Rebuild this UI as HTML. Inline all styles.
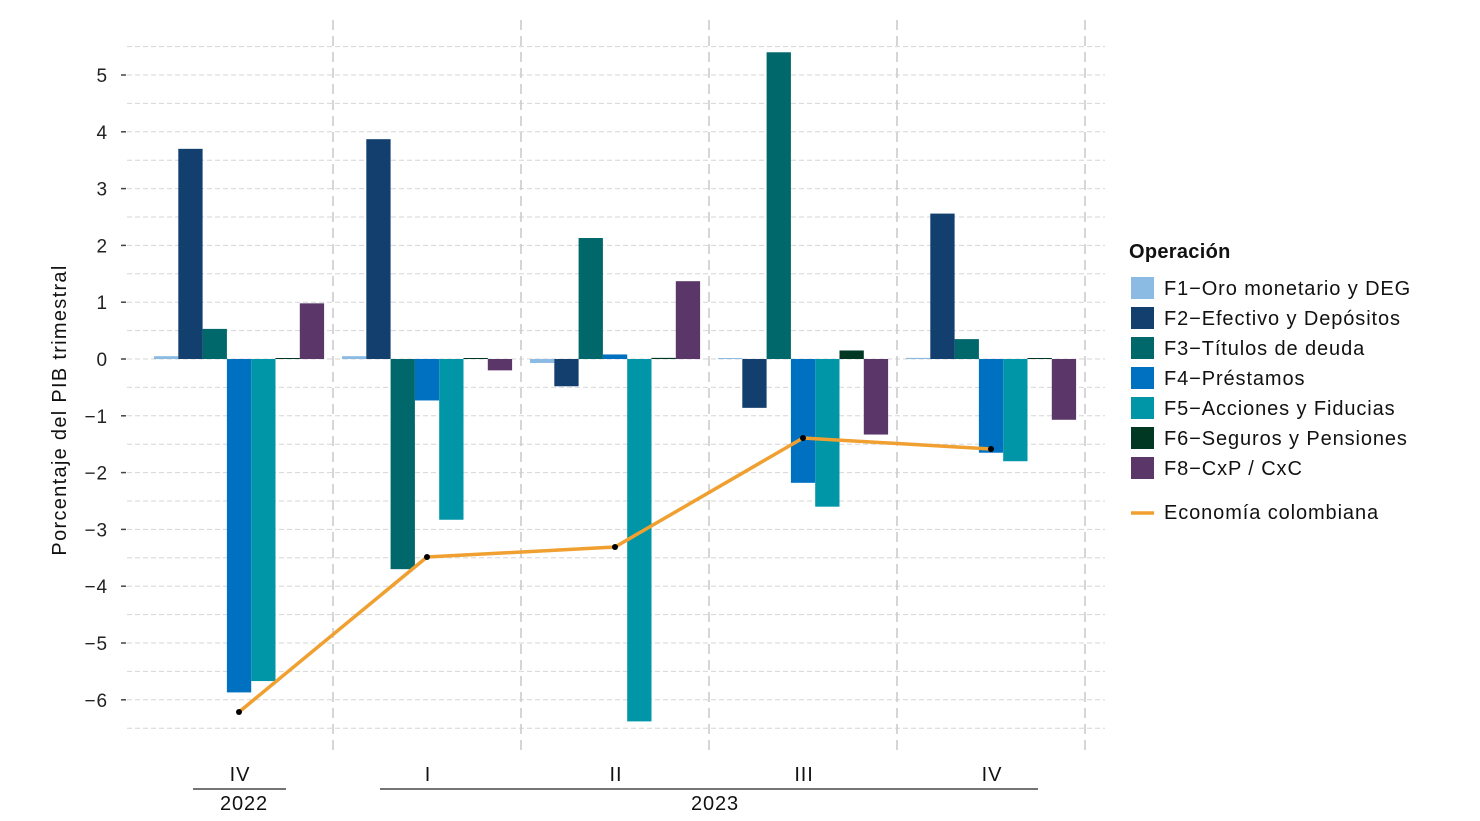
<!DOCTYPE html><html><head><style>body{margin:0;background:#fff}svg{display:block;font-family:"Liberation Sans",sans-serif}text{letter-spacing:0.9px}</style></head><body>
<svg width="1480" height="821" xmlns="http://www.w3.org/2000/svg">
<g id="grid" stroke="#d6d6d6" stroke-width="1" stroke-dasharray="5,3"></g>
<g id="vl" stroke="#c8c8c8" stroke-width="1.5" stroke-dasharray="10,6"></g>
<g id="bars"></g>
<polyline points="239,712 427,557 615,547 803,438 991,449" fill="none" stroke="#f0a030" stroke-width="3.5"/>
<g fill="#000"><circle cx="239" cy="712" r="3"/><circle cx="427" cy="557" r="3"/><circle cx="615" cy="547" r="3"/><circle cx="803" cy="438" r="3"/><circle cx="991" cy="449" r="3"/></g>
<g id="yt" font-size="19" fill="#222" text-anchor="end"></g>
<text transform="translate(66,410) rotate(-90)" font-size="20" fill="#111" text-anchor="middle" style="letter-spacing:1.3px">Porcentaje del PIB trimestral</text>
<g font-size="20" fill="#111" text-anchor="middle">
<text x="240" y="781">IV</text><text x="428" y="781">I</text><text x="616" y="781">II</text><text x="804" y="781">III</text><text x="992" y="781">IV</text>
<text x="244" y="810">2022</text><text x="715" y="810">2023</text></g>
<line x1="193" y1="789" x2="286" y2="789" stroke="#222" stroke-width="1.2"/>
<line x1="380" y1="789" x2="1038" y2="789" stroke="#222" stroke-width="1.2"/>
<g font-size="20" fill="#111" style="letter-spacing:1.1px">
<text x="1129" y="258" font-weight="bold" style="letter-spacing:0.3px">Operación</text>
<rect x="1131" y="277" width="23" height="22" fill="#8bbbe3"/><text x="1164" y="295">F1−Oro monetario y DEG</text>
<rect x="1131" y="307" width="23" height="22" fill="#123f6e"/><text x="1164" y="325">F2−Efectivo y Depósitos</text>
<rect x="1131" y="337" width="23" height="22" fill="#00676a"/><text x="1164" y="355">F3−Títulos de deuda</text>
<rect x="1131" y="367" width="23" height="22" fill="#0070c0"/><text x="1164" y="385">F4−Préstamos</text>
<rect x="1131" y="397" width="23" height="22" fill="#0096a8"/><text x="1164" y="415">F5−Acciones y Fiducias</text>
<rect x="1131" y="427" width="23" height="22" fill="#003824"/><text x="1164" y="445">F6−Seguros y Pensiones</text>
<rect x="1131" y="457" width="23" height="22" fill="#5a3768"/><text x="1164" y="475">F8−CxP / CxC</text>
<line x1="1131" y1="513" x2="1154" y2="513" stroke="#f0a030" stroke-width="3.5"/><text x="1164" y="519">Economía colombiana</text>
</g>
<script>
var ns="http://www.w3.org/2000/svg";function el(p,t,a){var e=document.createElementNS(ns,t);for(var k in a)e.setAttribute(k,a[k]);document.getElementById(p).appendChild(e);return e}
var z=359,u=56.8;
for(var v=-6.5;v<=5.6;v+=0.5){var y=z-v*u;el("grid","line",{x1:127,x2:1105,y1:y,y2:y});}
for(var v=-6;v<=5;v++){var t=el("yt","text",{x:108,y:z-v*u+7});t.textContent=v<0?"−"+(-v):v;el("yt","line",{x1:121,x2:126,y1:z-v*u,y2:z-v*u,stroke:"#444","stroke-width":1.5});}
[333,521,709,897,1085].forEach(function(x){el("vl","line",{x1:x,x2:x,y1:20,y2:755})});
var col=["#8bbbe3","#123f6e","#00676a","#0070c0","#0096a8","#003824","#5a3768"];
var d=[[0.05,3.7,0.53,-5.87,-5.67,0.005,0.98],[0.05,3.87,-3.7,-0.73,-2.83,0.01,-0.2],[-0.07,-0.48,2.13,0.08,-6.38,0.02,1.37],[0.005,-0.86,5.4,-2.18,-2.6,0.15,-1.33],[0.02,2.56,0.35,-1.65,-1.8,0.01,-1.07]];
d.forEach(function(g,i){var x0=154+i*188;g.forEach(function(v,j){var h=Math.max(Math.abs(v)*u,1);el("bars","rect",{x:x0+j*24.3,y:v>=0?z-h:z,width:24.3,height:h,fill:col[j]})})});
</script>
</svg></body></html>
